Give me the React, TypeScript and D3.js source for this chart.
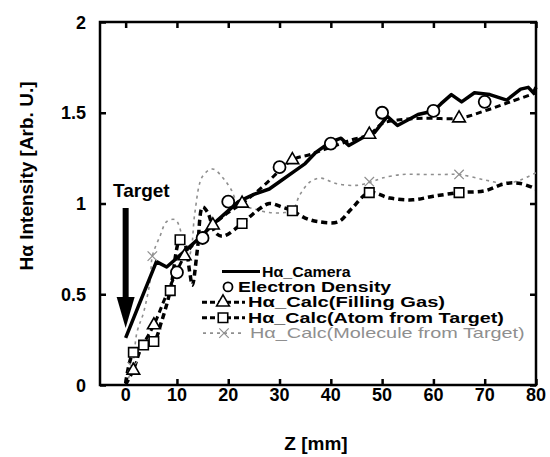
import React, { useEffect, useRef } from "react";
import * as d3 from "d3";

// axis ticks
const xTicks = [0, 10, 20, 30, 40, 50, 60, 70, 80];
const yTicks = [0, 0.5, 1, 1.5, 2];

// Hα_Camera (solid)
const camera: [number, number][] = [
  [0, 0.26], [3, 0.47], [6, 0.68], [8, 0.65], [10, 0.7], [14, 0.8], [18, 0.91],
  [22, 1.01], [25, 1.05], [28, 1.08], [30, 1.12], [33, 1.18], [35, 1.22], [37, 1.28],
  [40, 1.34], [42, 1.36], [43.5, 1.32], [46, 1.36], [48.5, 1.39], [51, 1.48], [53, 1.43],
  [55, 1.46], [57, 1.49], [60, 1.51], [61.5, 1.55], [63.5, 1.6], [65.5, 1.56], [68, 1.61],
  [71, 1.6], [74.3, 1.57], [77, 1.63], [78.5, 1.64], [79.5, 1.61], [80, 1.64],
];

// Electron Density (circles)
const density: [number, number][] = [
  [10, 0.62], [15, 0.81], [20, 1.01], [30, 1.2], [40, 1.33], [50, 1.5], [60, 1.51], [70, 1.56],
];

// Hα_Calc(Filling Gas)
const fillingGas: [number, number][] = [
  [0, 0], [1.5, 0.08], [3, 0.2], [5.5, 0.33], [8, 0.5], [11.5, 0.71], [14, 0.8], [17, 0.88],
  [20, 0.95], [22.7, 1.0], [27, 1.1], [32.5, 1.24], [36, 1.27], [40, 1.31], [44, 1.35],
  [47.5, 1.38], [50, 1.44], [53, 1.46], [58, 1.47], [65, 1.47], [70, 1.51], [75, 1.56], [80, 1.61],
];
const fillingGasMarks: [number, number][] = [
  [1.5, 0.08], [5.5, 0.33], [11.5, 0.71], [17, 0.88], [22.7, 1.0], [32.5, 1.24], [47.5, 1.38], [65, 1.47],
];

// Hα_Calc(Atom from Target)
const atom: [number, number][] = [
  [0, 0.01], [1.5, 0.18], [3.5, 0.22], [5.5, 0.24], [7, 0.35], [8.7, 0.52], [10.6, 0.8],
  [11.5, 0.78], [12.5, 0.62], [13, 0.55], [14, 0.75], [15, 0.98], [16, 0.95], [17.5, 0.84],
  [19, 0.82], [22.7, 0.89], [25.6, 0.96], [28, 1.0], [30.5, 0.98], [32.5, 0.96], [35, 0.92],
  [37.5, 0.9], [41.5, 0.9], [44, 0.97], [47.5, 1.06], [51.5, 1.03], [56, 1.02], [60, 1.04],
  [65, 1.06], [70, 1.07], [74, 1.11], [77, 1.11], [80, 1.08],
];
const atomMarks: [number, number][] = [
  [1.5, 0.18], [3.5, 0.22], [5.5, 0.24], [8.7, 0.52], [10.6, 0.8], [22.7, 0.89], [32.5, 0.96], [47.5, 1.06], [65, 1.06],
];

// Hα_Calc(Molecule from Target)
const molecule: [number, number][] = [
  [0, 0], [1.3, 0.1], [2.2, 0.29], [3.5, 0.4], [4.8, 0.58], [5.2, 0.71], [6.7, 0.82], [8, 0.9],
  [9.7, 0.91], [11, 0.82], [12, 0.68], [12.8, 0.75], [13.5, 0.95], [15, 1.15], [17, 1.19],
  [19, 1.14], [20.5, 1.08], [22, 1.0], [25, 0.97], [28, 0.95], [31, 0.95], [32.5, 0.96],
  [34, 1.05], [36, 1.12], [38, 1.14], [41, 1.11], [45, 1.1], [48, 1.12], [50, 1.14], [54, 1.16],
  [58, 1.16], [62, 1.16], [65, 1.16], [70, 1.13], [74, 1.11], [77, 1.13], [80, 1.17],
];
const moleculeMarks: [number, number][] = [
  [1.3, 0.1], [5.2, 0.71], [32.5, 0.96], [47.5, 1.12], [65, 1.16],
];

const legendLabels = [
  "H\u03b1_Camera",
  "Electron Density",
  "H\u03b1_Calc(Filling Gas)",
  "H\u03b1_Calc(Atom from Target)",
  "H\u03b1_Calc(Molecule from Target)",
];

const FONT = "'Liberation Sans', Arial, sans-serif";
const GREY = "#8f8f8f";

export default function App() {
  const ref = useRef<SVGSVGElement>(null);

  useEffect(() => {
    const svg = d3.select(ref.current);
    svg.selectAll("*").remove();

    const left = 100, right = 536, top = 22, bottom = 385;
    const x = d3.scaleLinear().domain([-5, 80]).range([left, right]);
    const y = d3.scaleLinear().domain([0, 2]).range([bottom, top]);

    const g = svg.append("g");

    // frame
    g.append("rect")
      .attr("x", left).attr("y", top)
      .attr("width", right - left).attr("height", bottom - top)
      .attr("fill", "none").attr("stroke", "#000").attr("stroke-width", 2.5);

    // inside ticks on all four sides
    const tl = 6;
    g.append("g").attr("transform", `translate(0,${bottom})`)
      .call(d3.axisBottom(x).tickValues(xTicks).tickSize(-tl).tickFormat(() => ""))
      .call((a) => a.select(".domain").remove());
    g.append("g").attr("transform", `translate(0,${top})`)
      .call(d3.axisTop(x).tickValues(xTicks).tickSize(-tl).tickFormat(() => ""))
      .call((a) => a.select(".domain").remove());
    g.append("g").attr("transform", `translate(${left},0)`)
      .call(d3.axisLeft(y).tickValues(yTicks).tickSize(-tl).tickFormat(() => ""))
      .call((a) => a.select(".domain").remove());
    g.append("g").attr("transform", `translate(${right},0)`)
      .call(d3.axisRight(y).tickValues(yTicks).tickSize(-tl).tickFormat(() => ""))
      .call((a) => a.select(".domain").remove());
    g.selectAll(".tick line").attr("stroke", "#000").attr("stroke-width", 2.5);

    // tick labels
    g.append("g").selectAll("text").data(xTicks).join("text")
      .attr("x", (d) => x(d)).attr("y", 401)
      .attr("text-anchor", "middle")
      .style("font", `bold 18px ${FONT}`)
      .text((d) => d3.format("d")(d));
    g.append("g").selectAll("text").data(yTicks).join("text")
      .attr("x", 86).attr("y", (d) => y(d) + 6.5)
      .attr("text-anchor", "end")
      .style("font", `bold 18px ${FONT}`)
      .text((d) => String(d));

    // axis titles
    g.append("text")
      .attr("x", (left + right) / 2 - 2).attr("y", 450)
      .attr("text-anchor", "middle")
      .style("font", `bold 19px ${FONT}`)
      .text("Z [mm]");
    g.append("text")
      .attr("transform", `translate(33,176) rotate(-90)`)
      .attr("text-anchor", "middle")
      .style("font", `bold 19px ${FONT}`)
      .text("H\u03b1 Intensity [Arb. U.]");

    const line = d3.line<[number, number]>().x((d) => x(d[0])).y((d) => y(d[1]));
    const smooth = d3.line<[number, number]>().x((d) => x(d[0])).y((d) => y(d[1])).curve(d3.curveCatmullRom);

    const plot = g.append("g");

    plot.append("path").datum(molecule).attr("d", smooth)
      .attr("fill", "none").attr("stroke", GREY).attr("stroke-width", 1.6)
      .attr("stroke-dasharray", "3,4");
    plot.append("path").datum(atom).attr("d", smooth)
      .attr("fill", "none").attr("stroke", "#000").attr("stroke-width", 3.5)
      .attr("stroke-dasharray", "6,4");
    plot.append("path").datum(fillingGas).attr("d", smooth)
      .attr("fill", "none").attr("stroke", "#000").attr("stroke-width", 3)
      .attr("stroke-dasharray", "6,4");
    plot.append("path").datum(camera).attr("d", line)
      .attr("fill", "none").attr("stroke", "#000").attr("stroke-width", 3.5)
      .attr("stroke-linejoin", "round");

    const tri = d3.symbol(d3.symbolTriangle, 70);
    const sq = d3.symbol(d3.symbolSquare, 90);
    const cross = d3.symbol(d3.symbolX, 60);

    plot.append("g").selectAll("path").data(moleculeMarks).join("path")
      .attr("transform", (d) => `translate(${x(d[0])},${y(d[1])})`)
      .attr("d", cross).attr("fill", "none").attr("stroke", GREY).attr("stroke-width", 1.2);
    plot.append("g").selectAll("path").data(atomMarks).join("path")
      .attr("transform", (d) => `translate(${x(d[0])},${y(d[1])})`)
      .attr("d", sq).attr("fill", "#fff").attr("stroke", "#000").attr("stroke-width", 1.6);
    plot.append("g").selectAll("path").data(fillingGasMarks).join("path")
      .attr("transform", (d) => `translate(${x(d[0])},${y(d[1])})`)
      .attr("d", tri).attr("fill", "#fff").attr("stroke", "#000").attr("stroke-width", 1.6);
    plot.append("g").selectAll("circle").data(density).join("circle")
      .attr("cx", (d) => x(d[0])).attr("cy", (d) => y(d[1])).attr("r", 6)
      .attr("fill", "#fff").attr("stroke", "#000").attr("stroke-width", 1.8);

    // Target arrow
    g.append("text")
      .attr("x", 113).attr("y", 197)
      .style("font", `bold 19px ${FONT}`)
      .text("Target");
    const ax = x(0);
    g.append("rect").attr("x", ax - 3).attr("y", 208).attr("width", 6).attr("height", 92).attr("fill", "#000");
    g.append("path")
      .attr("d", `M${ax - 9},297 L${ax + 9},297 L${ax},328 Z`)
      .attr("fill", "#000");

    // legend (rows are not all aligned in the original; its lettering is wide)
    const rows = [
      { y: 271.5, x0: 222, x1: 260, mx: 241, tx: 262, sx: 1.1 },
      { y: 286.9, x0: 0, x1: 0, mx: 228, tx: 238, sx: 1.34 },
      { y: 302.3, x0: 202, x1: 245, mx: 223, tx: 248, sx: 1.39 },
      { y: 317.7, x0: 202, x1: 245, mx: 223, tx: 248, sx: 1.36 },
      { y: 333.1, x0: 203, x1: 245, mx: 224, tx: 250, sx: 1.37 },
    ];
    const leg = g.append("g");
    legendLabels.forEach((label, i) => {
      const r = rows[i];
      if (i === 0) {
        leg.append("line").attr("x1", r.x0).attr("x2", r.x1).attr("y1", r.y).attr("y2", r.y)
          .attr("stroke", "#000").attr("stroke-width", 3);
      } else if (i === 1) {
        leg.append("circle").attr("cx", r.mx).attr("cy", r.y).attr("r", 4.5)
          .attr("fill", "#fff").attr("stroke", "#000").attr("stroke-width", 1.8);
      } else {
        const grey = i === 4;
        leg.append("line").attr("x1", r.x0).attr("x2", r.x1).attr("y1", r.y).attr("y2", r.y)
          .attr("stroke", grey ? GREY : "#000").attr("stroke-width", grey ? 1.6 : 3)
          .attr("stroke-dasharray", grey ? "3,4" : "5,3");
        leg.append("path").attr("transform", `translate(${r.mx},${r.y})`)
          .attr("d", i === 2 ? tri : i === 3 ? sq : cross)
          .attr("fill", grey ? "none" : "#fff").attr("stroke", grey ? GREY : "#000")
          .attr("stroke-width", grey ? 1.2 : 1.6);
      }
      leg.append("text")
        .attr("transform", `translate(${r.tx},${r.y + 5}) scale(${r.sx},1)`)
        .style("font", `${i === 4 ? "normal" : "bold"} 14.5px ${FONT}`)
        .attr("fill", i === 4 ? GREY : "#000")
        .text(label);
    });
  }, []);

  return (
    <svg
      ref={ref}
      width={550}
      height={457}
      style={{ position: "absolute", left: 0, top: 0, background: "#fff" }}
    />
  );
}
